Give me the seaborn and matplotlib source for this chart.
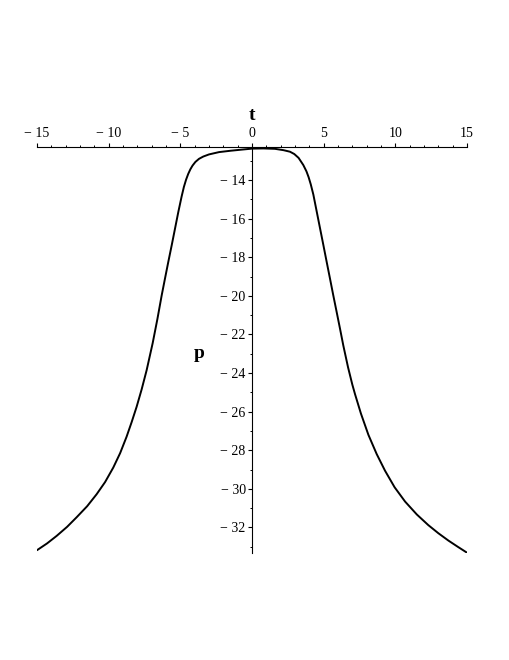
import matplotlib
matplotlib.use("Agg")
import numpy as np
import pandas as pd
import matplotlib.pyplot as plt
import seaborn as sns
from matplotlib.ticker import MultipleLocator, FuncFormatter

# curve (t, p)
t_vals = [-15.0, -14.3, -13.63, -12.9, -12.23, -11.5, -10.84, -10.25, -9.68, -9.2,
          -8.75, -8.4, -8.05, -7.7, -7.35, -6.93, -6.6, -6.3, -6.07, -5.84,
          -5.6, -5.37, -5.14, -4.91, -4.75, -4.6, -4.45, -4.3, -4.15, -3.95,
          -3.7, -3.4, -3.0, -2.3, -1.5, -0.7, 0.0, 0.8, 1.6, 2.2,
          2.65, 2.95, 3.25, 3.58, 3.8, 3.95, 4.1, 4.28, 4.52, 4.75,
          4.98, 5.21, 5.44, 5.67, 5.91, 6.14, 6.37, 6.7, 7.0, 7.19,
          7.6, 8.12, 8.7, 9.28, 9.95, 10.68, 11.5, 12.3, 13.0, 13.7,
          14.35, 15.0]
p_vals = [-33.18, -32.83, -32.44, -31.97, -31.47, -30.9, -30.28, -29.65, -28.9, -28.15,
          -27.3, -26.55, -25.75, -24.85, -23.85, -22.45, -21.2, -19.97, -19.1, -18.24,
          -17.37, -16.51, -15.65, -14.85, -14.35, -13.98, -13.68, -13.44, -13.25, -13.06,
          -12.9, -12.78, -12.67, -12.55, -12.48, -12.42, -12.37, -12.36, -12.38, -12.45,
          -12.53, -12.65, -12.85, -13.22, -13.55, -13.85, -14.22, -14.75, -15.65, -16.51,
          -17.37, -18.24, -19.1, -19.97, -20.85, -21.7, -22.57, -23.7, -24.6, -25.1,
          -26.1, -27.2, -28.2, -29.06, -29.92, -30.66, -31.33, -31.88, -32.3, -32.68,
          -33.0, -33.31]

x_ticks = [-15, -10, -5, 0, 5, 10, 15]
y_ticks = [-14, -16, -18, -20, -22, -24, -26, -28, -30, -32]
x_range = (-15, 15)
y_range = (-33.31, -12.27)

W, H = 510, 660

sns.set_style("ticks")
plt.rcParams['font.family'] = ['Liberation Serif', 'DejaVu Serif']

fig = plt.figure(figsize=(W / 100, H / 100), dpi=100)
ax = fig.add_axes([37 / W, 1 - 552.7 / H, 430 / W, (552.7 - 146.7) / H])

df = pd.DataFrame({'t': t_vals, 'p': p_vals})
sns.lineplot(data=df, x='t', y='p', ax=ax, color='black', linewidth=1.4,
             estimator=None)

ax.set_xlim(*x_range)
ax.set_ylim(*y_range)
ax.set_xlabel('')
ax.set_ylabel('')

# Maple-like axes: x axis along the top, p axis through t = 0
ax.spines['right'].set_visible(False)
ax.spines['bottom'].set_visible(False)
ax.spines['left'].set_position(('data', 0))
for s in ('top', 'left'):
    ax.spines[s].set_color('black')
    ax.spines[s].set_linewidth(0.8)

ax.xaxis.tick_top()
ax.set_xticks(x_ticks)
ax.set_yticks(y_ticks)
ax.xaxis.set_minor_locator(MultipleLocator(1))
ax.yaxis.set_minor_locator(MultipleLocator(1))


def fmt(v, pos):
    v = int(round(v))
    return f"\u2212 {abs(v)}" if v < 0 else f"{v}"


ax.xaxis.set_major_formatter(FuncFormatter(fmt))
ax.yaxis.set_major_formatter(FuncFormatter(fmt))
ax.tick_params(which='major', direction='out', length=3, width=0.8,
               colors='black', labelsize=10, pad=1.5)
ax.tick_params(which='minor', direction='out', length=1.8, width=0.7, colors='black')
ax.tick_params(axis='x', which='both', top=True, bottom=False)
ax.tick_params(axis='y', which='both', left=True, right=False)

fig.text(252 / W, 1 - 116 / H, 't', ha='center', va='center',
         fontsize=14, fontweight='bold', color='black')
fig.text(199 / W, 1 - 354 / H, 'p', ha='center', va='center',
         fontsize=14, fontweight='bold', color='black')

fig.savefig('out.png', dpi=100)
